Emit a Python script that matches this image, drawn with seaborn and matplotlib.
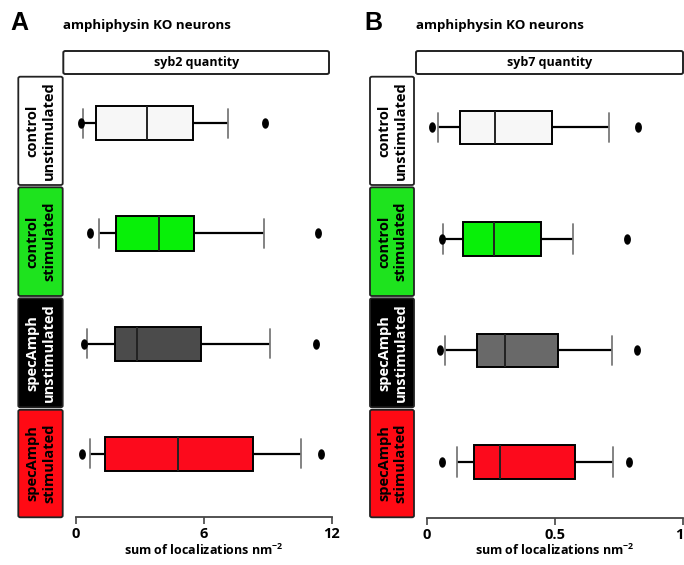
import numpy as np
import pandas as pd
import matplotlib
matplotlib.use("Agg")
import matplotlib.pyplot as plt
import seaborn as sns
from matplotlib.path import Path
from matplotlib.patches import FancyBboxPatch

sns.set_theme(style="white")
plt.rcParams['font.family'] = ['Open Sans', 'DejaVu Sans']
plt.rcParams['text.color'] = 'black'
plt.rcParams['axes.labelcolor'] = 'black'
plt.rcParams['xtick.color'] = 'black'
plt.rcParams['xtick.labelcolor'] = 'black'
plt.rcParams['mathtext.fontset'] = 'custom'
plt.rcParams['mathtext.rm'] = 'Open Sans:bold'
plt.rcParams['mathtext.bf'] = 'Open Sans:bold'
plt.rcParams['mathtext.it'] = 'Open Sans:bold'

# ---------------- data ----------------
groups = ["control\nunstimulated", "control\nstimulated",
          "specAmph\nunstimulated", "specAmph\nstimulated"]
# per group: [low dot, low whisker, Q1, (inner), median, (inner), Q3, high whisker, high dot]
syb2_ctrl_unstim = [0.27, 0.34, 0.96, 2.2, 3.33, 4.4, 5.49, 7.16, 8.89]
syb2_ctrl_stim = [0.68, 1.10, 1.91, 2.9, 3.91, 4.7, 5.56, 8.84, 11.34]
syb2_spec_unstim = [0.41, 0.55, 1.86, 2.4, 2.87, 4.3, 5.86, 9.10, 11.25]
syb2_spec_stim = [0.29, 0.68, 1.38, 3.0, 4.79, 6.5, 8.30, 10.55, 11.50]

syb7_ctrl_unstim = [0.022, 0.044, 0.131, 0.20, 0.265, 0.38, 0.489, 0.710, 0.825]
syb7_ctrl_stim = [0.058, 0.064, 0.143, 0.20, 0.262, 0.35, 0.447, 0.571, 0.782]
syb7_spec_unstim = [0.051, 0.071, 0.197, 0.25, 0.306, 0.41, 0.511, 0.723, 0.821]
syb7_spec_stim = [0.058, 0.118, 0.186, 0.23, 0.284, 0.43, 0.578, 0.725, 0.788]

ticks_a = [0, 6, 12]
ticklabels_a = ["0", "6", "12"]
ticks_b = [0, 0.5, 1]
ticklabels_b = ["0", "0.5", "1"]

box_colors_a = ["#f7f7f7", "#08f008", "#4b4b4b", "#fc0a1c"]
box_colors_b = ["#f7f7f7", "#08f008", "#696969", "#fc0a1c"]
label_colors = ["#ffffff", "#1ee31e", "#000000", "#ff0a14"]
label_text_colors = ["black", "black", "white", "black"]


def make_df(vals):
    rows = []
    for g, v in zip(groups, vals):
        for x in v:
            rows.append((g, x))
    return pd.DataFrame(rows, columns=["group", "value"])


df_a = make_df([syb2_ctrl_unstim, syb2_ctrl_stim, syb2_spec_unstim, syb2_spec_stim])
df_b = make_df([syb7_ctrl_unstim, syb7_ctrl_stim, syb7_spec_unstim, syb7_spec_stim])

W, H = 684, 565
fig = plt.figure(figsize=(W / 100, H / 100), dpi=100)


def fx(x):
    return x / W


def fy(y):
    return 1 - y / H


# vertical ellipse marker
t = np.linspace(0, 2 * np.pi, 40)
ell = Path(np.column_stack([0.6 * np.cos(t), np.sin(t)]), closed=True)


def panel(df, colors, left, right, top, bottom, ylim, width, ticks, ticklabels, xlim):
    ax = fig.add_axes([fx(left), fy(bottom), (right - left) / W, (bottom - top) / H])
    sns.boxplot(data=df, x="value", y="group", hue="group", order=groups,
                hue_order=groups, palette=colors, saturation=1, orient="h",
                legend=False, whis=(12.5, 87.5), width=width, linewidth=1.4,
                linecolor="black", capwidths=0.265,
                flierprops=dict(marker=ell, markersize=6.5, markerfacecolor="black",
                                markeredgecolor="black"),
                capprops=dict(color="#7a7a7a", linewidth=1.3),
                whiskerprops=dict(color="black", linewidth=1.6),
                medianprops=dict(color="#222222", linewidth=1.4),
                ax=ax)
    ax.set_xlim(*xlim)
    ax.set_ylim(*ylim)
    for s in ["left", "right", "top"]:
        ax.spines[s].set_visible(False)
    ax.spines["bottom"].set_color("#444444")
    ax.spines["bottom"].set_linewidth(1.3)
    ax.set_yticks([])
    ax.set_ylabel("")
    ax.set_xticks(ticks)
    ax.set_xticklabels(ticklabels, fontsize=10.5, fontweight="bold", color="black")
    ax.tick_params(axis="x", bottom=True, direction="out", length=5, width=1.2,
                   color="#444444", pad=2)
    ax.set_xlabel("sum of localizations nm$^{-2}$", fontsize=9, fontweight="bold",
                  labelpad=1, color="black")
    ax.patch.set_alpha(0)
    return ax


ax_a = panel(df_a, box_colors_a, 75.5, 331.7, 76.7, 517.3, (3.577, -0.423), 0.31,
             ticks_a, ticklabels_a, (0, 12))
ax_b = panel(df_b, box_colors_b, 426.7, 683.3, 76.0, 518.0, (3.504, -0.46), 0.30,
             ticks_b, ticklabels_b, (0, 1))
# keep the last tick label of panel B inside the picture
ax_b.get_xticklabels()[-1].set_horizontalalignment("right")


def rbox(x0, y0, x1, y1, face, lw=1.3):
    p = FancyBboxPatch((fx(x0), fy(y1)), (x1 - x0) / W, (y1 - y0) / H,
                       boxstyle="round,pad=0,rounding_size=0.003",
                       transform=fig.transFigure, facecolor=face,
                       edgecolor="#222222", linewidth=lw, zorder=0)
    fig.patches.append(p)


label_rows = [(76.7, 185.0), (187.3, 296.0), (298.3, 407.3), (409.8, 517.3)]
for (lx0, lx1) in [(18.3, 62.7), (370.0, 414.0)]:
    for (y0, y1), g, c, tc in zip(label_rows, groups, label_colors, label_text_colors):
        rbox(lx0, y0, lx1, y1, c)
        fig.text(fx((lx0 + lx1) / 2 + 0.5), fy((y0 + y1) / 2), g, rotation=90,
                 ha="center", va="center", ma="center", fontsize=10.5,
                 fontweight="bold", color=tc, linespacing=1.22)

# header boxes
for (x0, x1, txt) in [(63.3, 329.0, "syb2 quantity"), (416.0, 683.0, "syb7 quantity")]:
    rbox(x0, 51.0, x1, 74.0, "white", lw=1.4)
    fig.text(fx((x0 + x1) / 2), fy(62.5), txt, ha="center", va="center",
             fontsize=9, fontweight="bold", color="black")

# titles and panel letters
fig.text(fx(63), fy(25), "amphiphysin KO neurons", ha="left", va="center",
         fontsize=9.6, fontweight="bold", color="black")
fig.text(fx(416), fy(25), "amphiphysin KO neurons", ha="left", va="center",
         fontsize=9.6, fontweight="bold", color="black")
fig.text(fx(10), fy(23), "A", ha="left", va="center", fontsize=18,
         fontweight="bold", color="black", family=["Liberation Sans", "DejaVu Sans"])
fig.text(fx(364), fy(23), "B", ha="left", va="center", fontsize=18,
         fontweight="bold", color="black", family=["Liberation Sans", "DejaVu Sans"])

fig.savefig("out.png", dpi=100)
